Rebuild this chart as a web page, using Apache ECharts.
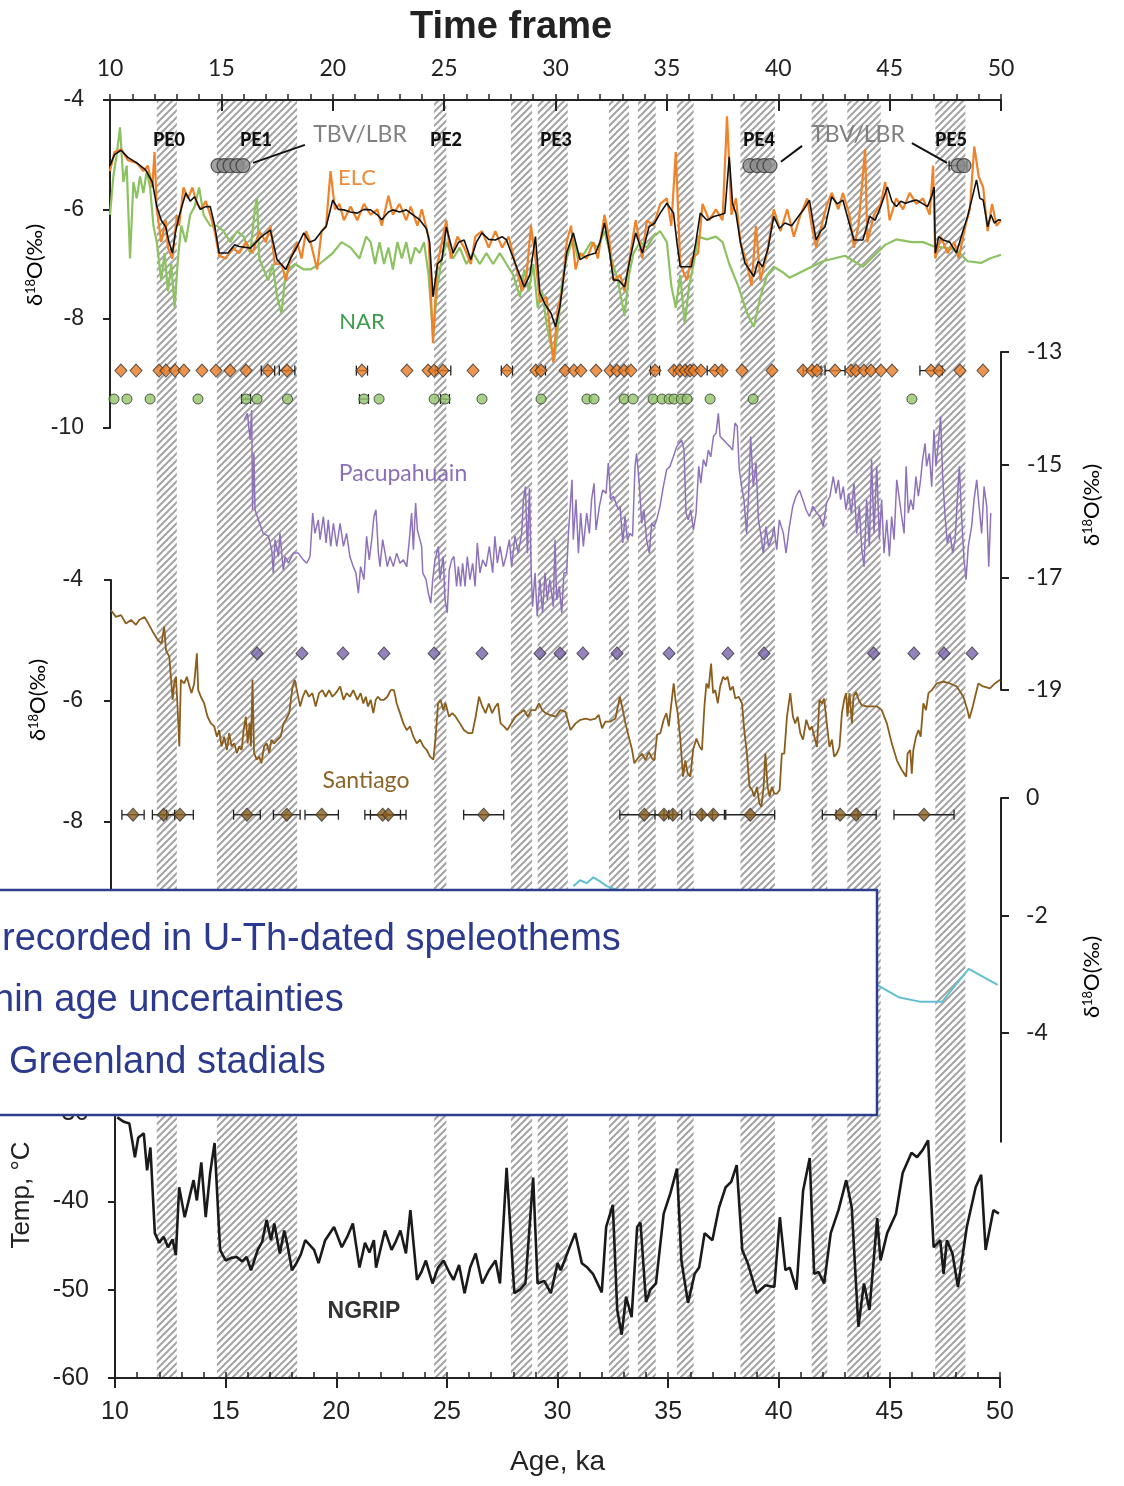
<!DOCTYPE html>
<html><head><meta charset="utf-8">
<script src="https://cdn.jsdelivr.net/npm/echarts@6/dist/echarts.min.js"></script>
<style>html,body{margin:0;padding:0;background:#fff}#c{width:1124px;height:1486px}</style>
</head><body><div id="c"></div>
<script>
// ---------------- DATA ----------------
const stadials = [[12.1,13.0],[14.8,18.4],[24.55,25.1],[28.0,28.95],[29.2,30.55],[32.4,33.3],[33.7,34.5],[35.45,36.2],[38.3,39.85],[41.5,42.2],[43.1,44.6],[47.05,48.4]];
const peLabels = ['PE0','PE1','PE2','PE3','PE4','PE5'];

const elc = [[10.0,-5.3],[10.2,-4.95],[10.5,-4.9],[10.8,-5.1],[11.2,-5.15],[11.5,-5.3],[11.7,-5.2],[11.9,-5.6],[12.0,-4.95],[12.1,-6.0],[12.3,-6.6],[12.5,-6.2],[12.6,-6.7],[12.8,-6.9],[13.0,-6.1],[13.1,-6.3],[13.3,-5.6],[13.5,-5.8],[13.7,-5.6],[13.9,-5.9],[14.1,-6.0],[14.3,-5.85],[14.5,-6.1],[14.7,-6.4],[14.9,-6.85],[15.2,-6.9],[15.5,-6.7],[15.8,-6.8],[16.1,-6.6],[16.4,-6.8],[16.7,-6.4],[17.0,-6.6],[17.2,-6.3],[17.4,-7.0],[17.7,-7.0],[17.9,-7.3],[18.1,-6.9],[18.4,-6.6],[18.6,-6.9],[18.8,-6.4],[19.0,-6.6],[19.3,-7.1],[19.5,-6.4],[19.7,-6.3],[19.9,-5.3],[20.1,-6.0],[20.3,-5.9],[20.5,-6.2],[20.8,-5.95],[21.1,-6.2],[21.4,-5.9],[21.7,-6.1],[22.0,-6.0],[22.2,-6.3],[22.5,-5.75],[22.7,-6.1],[23.0,-5.9],[23.3,-6.2],[23.5,-5.95],[23.8,-6.3],[24.0,-6.0],[24.3,-6.5],[24.5,-8.45],[24.7,-7.0],[24.9,-6.6],[25.1,-6.2],[25.3,-6.9],[25.6,-6.5],[25.9,-6.7],[26.2,-7.0],[26.4,-6.5],[26.7,-6.4],[27.0,-6.7],[27.3,-6.4],[27.6,-6.7],[27.9,-6.5],[28.2,-7.0],[28.5,-7.5],[28.7,-7.2],[28.9,-6.3],[29.1,-6.9],[29.3,-7.7],[29.6,-7.6],[29.9,-8.8],[30.1,-7.8],[30.3,-7.5],[30.5,-6.6],[30.7,-6.3],[30.9,-7.1],[31.1,-6.8],[31.4,-6.9],[31.7,-6.6],[31.9,-6.9],[32.2,-6.1],[32.4,-6.5],[32.6,-7.3],[32.9,-7.2],[33.1,-7.5],[33.4,-6.7],[33.6,-6.2],[33.9,-6.9],[34.1,-6.2],[34.4,-6.3],[34.7,-5.9],[35.0,-5.8],[35.2,-6.3],[35.4,-4.95],[35.6,-7.0],[35.9,-7.3],[36.1,-6.9],[36.4,-6.8],[36.6,-5.9],[36.9,-6.2],[37.2,-6.0],[37.5,-6.2],[37.7,-4.3],[37.9,-6.1],[38.1,-5.8],[38.3,-6.6],[38.6,-7.0],[38.8,-7.4],[39.0,-6.3],[39.2,-7.3],[39.5,-6.8],[39.8,-6.0],[40.1,-6.4],[40.4,-6.0],[40.7,-6.5],[41.0,-6.1],[41.3,-5.8],[41.5,-6.3],[41.7,-6.7],[42.0,-6.2],[42.2,-5.9],[42.4,-5.7],[42.7,-6.0],[42.9,-5.7],[43.2,-6.1],[43.4,-6.7],[43.6,-6.3],[43.9,-4.9],[44.0,-6.6],[44.3,-6.1],[44.6,-5.9],[44.8,-5.5],[45.0,-6.2],[45.3,-5.8],[45.6,-6.0],[45.9,-5.7],[46.2,-5.9],[46.5,-5.8],[46.8,-6.1],[46.95,-5.2],[47.05,-6.9],[47.3,-6.5],[47.6,-6.8],[47.9,-6.6],[48.1,-6.9],[48.4,-6.3],[48.6,-6.0],[48.8,-4.85],[49.0,-5.4],[49.2,-5.6],[49.4,-6.4],[49.6,-5.9],[49.8,-6.3],[50.0,-6.2]];

const elcSmooth = [[10.0,-5.2],[10.2,-5.0],[10.5,-4.92],[10.8,-5.05],[11.2,-5.15],[11.6,-5.28],[11.9,-5.5],[12.1,-5.95],[12.3,-6.2],[12.5,-6.32],[12.65,-6.6],[12.8,-6.8],[12.95,-6.4],[13.1,-6.13],[13.4,-5.7],[13.6,-5.85],[13.8,-5.77],[14.05,-6.0],[14.3,-5.95],[14.5,-5.95],[14.7,-6.3],[14.9,-6.8],[15.3,-6.8],[15.6,-6.65],[15.8,-6.68],[16.3,-6.71],[16.8,-6.5],[17.2,-6.38],[17.5,-6.92],[17.9,-7.1],[18.1,-6.9],[18.4,-6.68],[18.7,-6.43],[18.95,-6.6],[19.2,-6.56],[19.5,-6.4],[19.7,-6.32],[20.0,-5.83],[20.25,-6.0],[20.5,-6.01],[20.8,-6.05],[21.1,-6.07],[21.4,-6.0],[21.7,-6.01],[22.0,-6.1],[22.2,-6.19],[22.5,-6.05],[22.7,-6.01],[23.0,-6.05],[23.3,-6.01],[23.6,-6.1],[23.9,-6.19],[24.2,-6.35],[24.35,-6.6],[24.5,-7.6],[24.7,-7.0],[24.9,-6.92],[25.1,-6.32],[25.4,-6.8],[25.65,-6.6],[25.9,-6.56],[26.2,-6.92],[26.45,-6.6],[26.7,-6.43],[27.0,-6.55],[27.3,-6.56],[27.6,-6.5],[27.8,-6.56],[28.2,-7.0],[28.6,-7.42],[28.85,-7.2],[29.1,-6.5],[29.3,-7.53],[29.55,-7.75],[29.8,-7.9],[30.0,-8.15],[30.2,-7.78],[30.5,-6.8],[30.8,-6.43],[31.1,-6.92],[31.4,-6.85],[31.8,-6.8],[32.0,-6.6],[32.2,-6.25],[32.4,-6.7],[32.6,-7.29],[32.85,-7.3],[33.1,-7.42],[33.35,-6.9],[33.6,-6.43],[33.9,-6.8],[34.2,-6.32],[34.45,-6.25],[34.7,-6.07],[35.0,-5.89],[35.3,-6.07],[35.45,-6.6],[35.6,-7.05],[36.1,-7.05],[36.3,-6.6],[36.5,-6.07],[36.8,-6.2],[37.1,-6.13],[37.4,-6.1],[37.6,-6.07],[37.8,-5.04],[37.95,-5.9],[38.1,-6.07],[38.3,-6.6],[38.5,-6.98],[38.7,-7.1],[38.9,-7.23],[39.1,-6.95],[39.3,-7.05],[39.55,-6.7],[39.8,-6.13],[40.05,-6.35],[40.3,-6.25],[40.6,-6.3],[40.9,-6.13],[41.15,-6.0],[41.4,-5.83],[41.55,-6.2],[41.7,-6.56],[41.9,-6.4],[42.1,-6.32],[42.4,-5.77],[42.65,-5.9],[42.9,-5.83],[43.15,-6.2],[43.4,-6.56],[43.8,-6.56],[44.1,-6.13],[44.35,-6.2],[44.6,-5.95],[44.9,-5.59],[45.1,-5.85],[45.3,-5.95],[45.5,-5.85],[45.7,-5.89],[46.0,-5.85],[46.2,-5.83],[46.5,-5.9],[46.7,-5.95],[46.9,-5.75],[47.0,-5.59],[47.05,-6.8],[47.2,-6.5],[47.4,-6.56],[47.7,-6.6],[48.0,-6.8],[48.25,-6.45],[48.5,-6.13],[48.7,-5.8],[48.9,-5.46],[49.05,-5.8],[49.2,-5.83],[49.4,-6.32],[49.55,-6.1],[49.7,-6.25],[49.9,-6.19],[50.0,-6.2]];

const nar = [[10.0,-6.1],[10.15,-5.4],[10.3,-5.0],[10.45,-4.5],[10.6,-5.5],[10.75,-5.2],[10.9,-6.9],[11.05,-5.5],[11.2,-5.8],[11.35,-5.4],[11.5,-5.7],[11.65,-5.3],[11.8,-5.6],[11.95,-6.3],[12.1,-6.6],[12.3,-7.3],[12.45,-6.8],[12.6,-7.5],[12.75,-7.0],[12.9,-7.8],[13.05,-6.9],[13.2,-6.3],[13.4,-6.6],[13.6,-6.1],[13.8,-5.95],[14.0,-5.6],[14.2,-6.1],[14.5,-6.3],[14.8,-6.3],[15.1,-6.4],[15.4,-6.6],[15.7,-6.4],[16.0,-6.5],[16.3,-6.8],[16.5,-6.0],[16.6,-5.8],[16.7,-6.9],[16.9,-7.1],[17.1,-7.3],[17.3,-7.0],[17.5,-7.6],[17.7,-7.9],[17.85,-7.3],[18.0,-7.1],[18.3,-7.0],[18.7,-7.1],[19.0,-7.1],[19.4,-7.0],[19.7,-6.9],[20.0,-6.8],[20.4,-6.6],[20.8,-6.7],[21.2,-6.9],[21.5,-6.5],[21.7,-6.6],[21.9,-7.0],[22.1,-6.6],[22.3,-7.0],[22.5,-6.7],[22.7,-7.1],[22.9,-6.6],[23.1,-6.9],[23.3,-6.6],[23.5,-7.0],[23.7,-6.7],[23.9,-6.8],[24.1,-6.6],[24.3,-7.2],[24.5,-8.3],[24.7,-7.4],[24.9,-6.9],[25.1,-6.6],[25.4,-6.9],[25.7,-6.7],[26.0,-7.0],[26.3,-6.8],[26.6,-7.0],[26.9,-6.8],[27.2,-7.0],[27.5,-6.8],[27.8,-7.0],[28.1,-7.2],[28.4,-7.6],[28.6,-7.1],[28.8,-7.5],[29.0,-7.0],[29.2,-7.8],[29.4,-7.5],[29.6,-8.1],[29.8,-8.5],[29.95,-8.75],[30.1,-8.2],[30.3,-7.3],[30.5,-6.9],[30.8,-6.5],[31.0,-6.9],[31.3,-6.8],[31.6,-6.6],[31.9,-6.7],[32.2,-6.4],[32.5,-6.9],[32.8,-7.3],[33.1,-7.95],[33.3,-7.2],[33.5,-6.8],[33.8,-6.6],[34.1,-6.7],[34.4,-6.5],[34.7,-6.4],[35.0,-6.6],[35.2,-7.4],[35.4,-7.8],[35.6,-7.2],[35.8,-8.1],[36.0,-7.4],[36.2,-7.0],[36.4,-6.5],[36.8,-6.55],[37.2,-6.5],[37.5,-6.6],[37.8,-7.0],[38.2,-7.4],[38.6,-7.9],[38.9,-8.15],[39.2,-7.6],[39.5,-7.2],[39.8,-7.05],[40.2,-7.15],[40.5,-7.25],[41.0,-7.15],[41.5,-7.05],[42.0,-6.95],[42.5,-6.9],[43.0,-6.85],[43.4,-6.95],[43.8,-7.05],[44.3,-6.85],[44.8,-6.65],[45.3,-6.55],[46.0,-6.6],[46.5,-6.6],[47.0,-6.68],[47.5,-6.7],[48.0,-6.74],[48.5,-6.95],[49.1,-6.98],[49.5,-6.9],[50.0,-6.83]];

// U-Th dates: [age ka, half error ka]
const elcDates = [[10.49,0],[11.17,0],[12.20,0],[12.51,0],[12.92,0],[13.32,0],[14.13,0],[14.76,0],[15.39,0],[16.11,0],[17.09,0.3],[17.95,0.35],[21.31,0.25],[23.33,0],[24.28,0],[24.55,0],[24.95,0.35],[26.30,0],[27.82,0.25],[29.12,0],[29.35,0.2],[30.43,0],[30.83,0],[31.14,0],[31.82,0],[32.45,0],[32.76,0],[33.08,0],[33.39,0],[34.47,0.2],[35.32,0],[35.59,0.3],[35.82,0],[36.04,0],[36.22,0],[36.53,0],[37.16,0.35],[37.47,0],[38.37,0],[39.72,0],[41.11,0],[41.52,0.4],[41.74,0],[42.55,0.45],[43.27,0],[43.49,0],[43.85,0],[44.16,0],[44.61,0],[45.11,0],[46.86,0.5],[47.22,0],[48.16,0],[49.19,0]];
const narDates = [[10.18,0],[10.76,0],[11.80,0],[13.95,0],[16.11,0.2],[16.60,0],[17.97,0],[21.40,0.2],[22.08,0],[24.55,0],[25.04,0.2],[26.70,0],[29.35,0],[31.41,0],[31.73,0],[33.08,0],[33.48,0],[34.38,0],[34.78,0],[35.10,0],[35.32,0],[35.64,0],[35.91,0],[36.94,0],[38.87,0],[46.00,0]];
const tbvDates = [[14.85,0],[15.12,0],[15.39,0],[15.70,0],[15.97,0],[38.73,0],[39.05,0],[39.36,0],[39.63,0],[48.07,0.4],[48.34,0]];
const pacuDates = [16.60,18.62,20.46,22.30,24.55,26.70,29.30,30.20,31.23,32.76,35.10,37.74,39.36,44.28,46.09,47.44,48.70];
const santDates = [[10.99,0.5],[12.36,0.5],[13.10,0.6],[16.11,0.6],[17.90,0.6],[19.47,0.75],[22.21,0.8],[22.46,0.8],[26.75,0.9],[33.97,1.1],[34.85,0.4],[35.25,0.4],[36.53,0.5],[37.07,0.5],[38.73,1.1],[42.77,0.8],[43.49,0.9],[46.54,1.35]];

const pacupahuain = [[16.02,-14.21],[16.17,-14.09],[16.29,-14.56],[16.36,-14.03],[16.40,-15.80],[16.46,-14.80],[16.51,-15.80],[16.66,-15.98],[16.88,-16.22],[17.11,-16.27],[17.26,-16.51],[17.33,-16.92],[17.41,-16.33],[17.56,-16.63],[17.63,-16.22],[17.78,-16.87],[17.86,-16.63],[18.01,-16.75],[18.23,-16.57],[18.45,-16.57],[18.68,-16.69],[18.83,-16.75],[18.98,-16.63],[19.10,-15.86],[19.20,-16.22],[19.35,-15.98],[19.43,-16.33],[19.58,-15.92],[19.70,-16.39],[19.80,-15.98],[19.91,-16.45],[20.03,-16.04],[20.18,-16.45],[20.33,-16.04],[20.48,-16.45],[20.62,-16.22],[20.77,-16.63],[20.92,-16.81],[21.04,-16.92],[21.15,-17.28],[21.25,-16.81],[21.40,-17.04],[21.52,-16.27],[21.64,-16.69],[21.75,-16.33],[21.85,-15.92],[21.94,-15.80],[22.05,-16.57],[22.12,-16.81],[22.24,-16.33],[22.35,-16.57],[22.45,-16.81],[22.57,-16.63],[22.72,-16.81],[22.87,-16.57],[23.02,-16.75],[23.17,-16.69],[23.32,-16.81],[23.44,-16.33],[23.54,-15.86],[23.62,-16.51],[23.72,-15.68],[23.80,-16.16],[23.99,-16.45],[24.04,-16.92],[24.19,-17.04],[24.29,-17.28],[24.40,-17.46],[24.49,-17.04],[24.59,-16.69],[24.74,-16.45],[24.81,-17.04],[24.96,-16.63],[25.04,-17.40],[25.14,-17.63],[25.23,-16.87],[25.34,-16.69],[25.44,-16.63],[25.56,-17.16],[25.64,-16.81],[25.74,-17.16],[25.83,-16.75],[25.94,-17.16],[26.04,-16.63],[26.16,-17.04],[26.28,-16.75],[26.39,-17.16],[26.49,-16.39],[26.61,-16.92],[26.73,-16.69],[26.88,-16.81],[27.03,-16.45],[27.18,-16.92],[27.28,-16.27],[27.39,-16.75],[27.51,-16.45],[27.66,-16.81],[27.78,-16.63],[27.93,-16.33],[28.03,-16.81],[28.18,-16.27],[28.33,-16.57],[28.48,-16.22],[28.56,-15.62],[28.65,-15.39],[28.74,-16.57],[28.83,-15.42],[28.91,-16.92],[28.97,-17.52],[29.08,-16.92],[29.18,-17.69],[29.30,-17.04],[29.42,-17.63],[29.53,-16.92],[29.63,-17.40],[29.75,-17.04],[29.90,-17.52],[29.98,-16.33],[30.05,-17.40],[30.17,-17.16],[30.28,-17.63],[30.38,-16.92],[30.50,-16.92],[30.58,-16.22],[30.65,-15.80],[30.74,-15.27],[30.80,-16.33],[30.92,-15.62],[31.03,-16.57],[31.13,-15.86],[31.25,-16.45],[31.40,-15.86],[31.52,-16.22],[31.62,-15.62],[31.73,-15.33],[31.82,-16.16],[31.97,-15.74],[32.12,-15.45],[32.27,-15.51],[32.37,-14.97],[32.48,-15.62],[32.60,-15.56],[32.82,-15.80],[32.90,-15.74],[33.02,-16.39],[33.12,-15.92],[33.23,-16.33],[33.35,-16.22],[33.46,-16.27],[33.57,-15.03],[33.64,-14.80],[33.76,-15.33],[33.87,-16.04],[33.97,-15.80],[34.09,-16.33],[34.21,-16.57],[34.32,-16.04],[34.42,-16.10],[34.54,-15.98],[34.69,-15.74],[34.84,-15.39],[34.99,-15.09],[35.14,-15.03],[35.29,-14.86],[35.44,-14.68],[35.56,-14.62],[35.66,-14.56],[35.77,-14.74],[35.86,-15.86],[35.96,-15.98],[36.07,-15.80],[36.19,-16.16],[36.31,-15.86],[36.43,-15.03],[36.52,-15.33],[36.64,-14.91],[36.76,-15.03],[36.86,-14.74],[36.97,-14.86],[37.09,-14.50],[37.21,-14.44],[37.31,-14.09],[37.39,-14.50],[37.54,-14.56],[37.68,-14.62],[37.83,-14.68],[37.95,-14.74],[38.06,-14.26],[38.16,-14.32],[38.25,-15.09],[38.36,-15.39],[38.46,-15.62],[38.58,-16.22],[38.67,-15.51],[38.76,-14.50],[38.88,-15.39],[39.00,-14.97],[39.11,-15.98],[39.21,-16.22],[39.33,-16.57],[39.45,-16.10],[39.56,-16.45],[39.70,-16.33],[39.81,-16.10],[39.93,-16.51],[40.05,-15.98],[40.23,-16.22],[40.35,-16.57],[40.50,-16.10],[40.65,-15.74],[40.80,-15.56],[40.95,-15.45],[41.10,-15.62],[41.25,-15.80],[41.40,-15.92],[41.55,-15.74],[41.73,-15.86],[41.87,-15.92],[42.02,-16.10],[42.17,-15.68],[42.32,-15.56],[42.47,-15.21],[42.59,-15.51],[42.70,-15.27],[42.80,-15.62],[42.92,-15.39],[43.04,-15.80],[43.16,-15.51],[43.28,-15.86],[43.40,-15.33],[43.52,-16.22],[43.64,-15.74],[43.75,-16.51],[43.85,-16.81],[43.97,-15.62],[44.09,-16.45],[44.19,-14.91],[44.30,-16.22],[44.42,-15.03],[44.54,-16.33],[44.64,-15.62],[44.75,-16.57],[44.87,-15.98],[44.99,-16.63],[45.09,-15.92],[45.20,-16.33],[45.32,-15.27],[45.44,-15.62],[45.54,-15.92],[45.65,-16.22],[45.74,-15.03],[45.84,-15.86],[45.95,-15.62],[46.06,-15.80],[46.18,-15.21],[46.29,-15.56],[46.39,-15.27],[46.48,-14.91],[46.59,-14.62],[46.66,-15.03],[46.78,-14.80],[46.89,-15.39],[46.99,-14.38],[47.08,-15.03],[47.19,-14.62],[47.29,-14.15],[47.38,-15.21],[47.49,-15.92],[47.59,-16.39],[47.71,-16.22],[47.83,-16.57],[47.94,-16.33],[48.04,-15.62],[48.13,-15.03],[48.23,-15.92],[48.34,-16.69],[48.43,-17.04],[48.53,-16.45],[48.68,-16.10],[48.79,-15.62],[48.91,-15.27],[49.03,-15.80],[49.13,-16.22],[49.24,-15.39],[49.36,-15.74],[49.45,-16.81],[49.54,-15.86]];

const santiago = [[10.00,-4.50],[10.22,-4.61],[10.45,-4.58],[10.67,-4.72],[10.90,-4.66],[11.12,-4.74],[11.27,-4.66],[11.50,-4.61],[11.68,-4.72],[11.87,-4.85],[12.10,-4.99],[12.27,-5.05],[12.39,-4.77],[12.47,-5.16],[12.62,-5.27],[12.69,-5.60],[12.77,-5.98],[12.84,-5.71],[12.92,-5.60],[12.99,-6.09],[13.07,-6.75],[13.14,-5.65],[13.29,-5.71],[13.41,-5.60],[13.53,-5.76],[13.62,-5.87],[13.74,-5.71],[13.86,-5.21],[13.92,-5.82],[14.04,-5.93],[14.19,-6.04],[14.34,-6.26],[14.49,-6.37],[14.64,-6.42],[14.76,-6.59],[14.86,-6.48],[14.97,-6.75],[15.09,-6.59],[15.21,-6.81],[15.31,-6.53],[15.42,-6.75],[15.54,-6.70],[15.66,-6.86],[15.76,-6.75],[15.87,-6.81],[15.96,-6.48],[16.06,-6.26],[16.14,-6.70],[16.23,-6.37],[16.29,-6.75],[16.36,-5.65],[16.43,-6.86],[16.55,-6.97],[16.66,-6.92],[16.76,-7.03],[16.88,-6.75],[17.00,-6.70],[17.11,-6.86],[17.21,-6.64],[17.33,-6.70],[17.48,-6.64],[17.63,-6.59],[17.75,-6.37],[17.86,-6.31],[18.01,-6.20],[18.16,-5.76],[18.26,-5.65],[18.38,-5.87],[18.50,-6.09],[18.62,-5.93],[18.75,-5.82],[18.90,-5.93],[19.05,-5.87],[19.20,-6.09],[19.35,-5.87],[19.50,-5.82],[19.65,-5.93],[19.80,-5.82],[19.95,-5.93],[20.10,-5.87],[20.30,-5.76],[20.45,-5.98],[20.59,-5.87],[20.74,-5.93],[20.89,-5.82],[21.07,-5.98],[21.22,-5.87],[21.34,-6.04],[21.45,-5.93],[21.55,-6.09],[21.67,-5.98],[21.79,-6.20],[21.90,-5.98],[22.00,-5.93],[22.12,-5.98],[22.27,-5.98],[22.42,-5.93],[22.57,-5.82],[22.72,-5.82],[22.84,-6.04],[22.99,-6.20],[23.14,-6.37],[23.29,-6.48],[23.44,-6.42],[23.59,-6.59],[23.74,-6.70],[23.89,-6.64],[24.04,-6.75],[24.19,-6.81],[24.34,-6.92],[24.49,-6.97],[24.59,-6.59],[24.70,-6.04],[24.81,-5.98],[24.93,-6.15],[25.04,-6.04],[25.19,-6.26],[25.34,-6.20],[25.49,-6.26],[25.68,-6.37],[25.86,-6.48],[26.04,-6.53],[26.24,-6.53],[26.39,-6.26],[26.54,-5.93],[26.69,-6.09],[26.83,-6.20],[26.98,-6.04],[27.13,-6.20],[27.28,-6.09],[27.39,-6.04],[27.51,-6.37],[27.66,-6.42],[27.81,-6.48],[27.99,-6.37],[28.18,-6.26],[28.38,-6.20],[28.56,-6.15],[28.74,-6.26],[28.89,-6.15],[29.08,-6.15],[29.23,-6.04],[29.38,-6.15],[29.53,-6.20],[29.72,-6.23],[29.98,-6.26],[30.20,-6.15],[30.43,-6.18],[30.65,-6.48],[30.88,-6.37],[31.10,-6.31],[31.33,-6.29],[31.55,-6.31],[31.77,-6.29],[31.92,-6.23],[32.07,-6.45],[32.22,-6.34],[32.45,-6.34],[32.67,-6.29],[32.87,-5.93],[32.97,-6.09],[33.12,-6.37],[33.27,-6.59],[33.42,-6.81],[33.52,-7.03],[33.67,-6.95],[33.87,-6.87],[34.02,-6.98],[34.17,-6.84],[34.32,-6.95],[34.42,-6.98],[34.54,-6.56],[34.69,-6.53],[34.84,-6.31],[34.96,-6.20],[35.07,-6.42],[35.17,-6.09],[35.29,-5.71],[35.37,-5.98],[35.47,-6.20],[35.59,-6.64],[35.71,-7.25],[35.81,-6.98],[35.92,-7.20],[36.04,-7.25],[36.16,-6.81],[36.31,-6.62],[36.46,-6.76],[36.56,-6.81],[36.67,-6.09],[36.76,-5.71],[36.86,-5.79],[36.97,-5.38],[37.06,-5.87],[37.16,-5.82],[37.27,-6.04],[37.38,-5.76],[37.51,-5.60],[37.61,-5.65],[37.71,-5.60],[37.83,-5.82],[37.95,-5.76],[38.06,-5.96],[38.21,-5.93],[38.36,-6.04],[38.46,-6.48],[38.58,-6.87],[38.70,-7.42],[38.81,-7.47],[38.91,-7.58],[39.03,-7.42],[39.14,-7.69],[39.23,-7.75],[39.33,-7.42],[39.41,-6.87],[39.51,-7.42],[39.60,-7.58],[39.70,-7.42],[39.81,-7.53],[39.93,-7.53],[40.05,-7.47],[40.15,-6.87],[40.26,-6.87],[40.38,-6.26],[40.53,-5.87],[40.65,-6.26],[40.75,-6.37],[40.86,-6.26],[40.98,-6.53],[41.10,-6.64],[41.25,-6.31],[41.40,-6.48],[41.50,-6.42],[41.61,-6.59],[41.73,-6.76],[41.84,-5.98],[41.95,-6.04],[42.05,-5.96],[42.17,-6.37],[42.29,-6.76],[42.40,-6.64],[42.50,-6.92],[42.62,-6.87],[42.74,-6.76],[42.85,-6.20],[42.95,-5.98],[43.04,-5.87],[43.10,-6.26],[43.19,-5.87],[43.30,-6.37],[43.37,-5.93],[43.49,-5.85],[43.60,-5.98],[43.74,-6.07],[43.94,-6.09],[44.19,-6.09],[44.42,-6.09],[44.64,-6.15],[44.87,-6.37],[45.09,-6.70],[45.32,-6.98],[45.54,-7.14],[45.74,-7.25],[45.80,-6.87],[45.92,-6.81],[45.99,-7.20],[46.06,-6.81],[46.18,-6.59],[46.29,-6.48],[46.39,-6.59],[46.51,-6.04],[46.63,-6.15],[46.74,-5.87],[46.89,-5.82],[47.11,-5.71],[47.41,-5.68],[47.71,-5.71],[48.01,-5.76],[48.31,-5.93],[48.49,-6.15],[48.58,-6.29],[48.73,-6.09],[48.98,-5.71],[49.20,-5.76],[49.50,-5.79],[49.73,-5.71],[49.96,-5.65]];

const cyanRecord = [[30.8,-1.5],[31.1,-1.4],[31.4,-1.45],[31.7,-1.35],[32.0,-1.42],[32.3,-1.5],[44.3,-3.15],[45.4,-3.39],[46.4,-3.47],[47.35,-3.47],[48.55,-2.91],[49.85,-3.18]];

const ngrip = [[10.1,-30.5],[10.4,-31.0],[10.65,-31.2],[10.9,-35.0],[11.05,-32.8],[11.3,-32.3],[11.45,-36.5],[11.6,-33.9],[11.8,-43.6],[12.0,-44.7],[12.2,-44.0],[12.4,-45.2],[12.6,-44.3],[12.75,-46.1],[12.9,-38.4],[13.15,-41.8],[13.55,-37.6],[13.7,-39.9],[13.9,-35.6],[14.1,-41.8],[14.3,-36.8],[14.5,-33.4],[14.75,-45.5],[15.0,-46.7],[15.25,-46.4],[15.5,-46.3],[15.75,-46.8],[15.95,-46.3],[16.15,-47.8],[16.45,-45.5],[16.65,-44.6],[16.85,-42.1],[17.05,-44.4],[17.2,-42.5],[17.45,-45.9],[17.65,-43.3],[17.8,-45.0],[18.0,-47.8],[18.2,-47.0],[18.4,-46.0],[18.6,-44.4],[19.0,-45.5],[19.2,-47.0],[19.5,-44.4],[19.9,-42.9],[20.25,-45.2],[20.5,-44.0],[20.75,-42.5],[21.05,-47.5],[21.3,-44.7],[21.5,-45.8],[21.7,-44.4],[21.8,-47.5],[22.2,-43.3],[22.5,-45.5],[22.7,-44.5],[22.9,-43.3],[23.15,-45.9],[23.35,-41.0],[23.65,-48.9],[23.85,-48.0],[24.05,-46.7],[24.35,-49.3],[24.6,-47.5],[24.85,-46.7],[25.1,-48.0],[25.3,-48.9],[25.55,-47.2],[25.8,-50.4],[26.05,-47.5],[26.3,-45.9],[26.6,-49.3],[26.9,-47.8],[27.2,-46.7],[27.4,-49.3],[27.7,-36.2],[28.05,-50.4],[28.3,-50.0],[28.55,-49.3],[28.9,-37.3],[29.1,-49.3],[29.4,-49.0],[29.7,-50.4],[30.0,-47.0],[30.15,-47.8],[30.5,-45.5],[30.8,-43.6],[31.1,-47.0],[31.35,-47.5],[31.6,-48.2],[32.0,-50.3],[32.2,-42.9],[32.5,-40.4],[32.7,-52.3],[32.9,-55.1],[33.1,-50.8],[33.35,-53.1],[33.6,-42.9],[33.75,-42.4],[34.0,-51.4],[34.2,-50.0],[34.45,-49.3],[34.8,-41.4],[35.1,-39.1],[35.4,-36.3],[35.6,-46.7],[35.9,-51.5],[36.2,-48.2],[36.4,-47.5],[36.65,-43.6],[37.0,-44.4],[37.3,-40.7],[37.6,-38.4],[37.85,-37.8],[38.1,-35.9],[38.35,-45.5],[38.6,-47.0],[39.0,-50.4],[39.4,-49.5],[39.8,-49.7],[40.05,-41.8],[40.3,-47.8],[40.5,-47.5],[40.8,-50.0],[41.1,-38.8],[41.4,-35.1],[41.6,-48.2],[41.8,-48.0],[42.05,-49.3],[42.35,-43.6],[42.7,-41.0],[43.05,-37.6],[43.3,-40.7],[43.6,-54.2],[43.85,-49.3],[44.1,-52.3],[44.45,-41.9],[44.6,-46.7],[44.9,-43.6],[45.3,-41.4],[45.6,-36.8],[46.0,-34.5],[46.25,-35.0],[46.5,-34.2],[46.75,-33.1],[47.0,-45.2],[47.3,-44.4],[47.45,-48.2],[47.6,-44.4],[47.85,-45.9],[48.1,-49.7],[48.5,-42.9],[48.9,-38.4],[49.15,-37.0],[49.35,-45.5],[49.7,-41.0],[49.95,-41.4]];

const topTicks = [10,15,20,25,30,35,40,45,50];

// ---------------- STYLE / LAYOUT ----------------
const ROW_ELC = -8.95, ROW_NAR = -9.47, ROW_TBV = -5.2, ROW_PACU = -18.35, ROW_SANT = -7.88;
const LEFT = 110, W = 891;
const CAL = 'Lato', ARIAL = 'Liberation Sans';

function hatchCanvas(){
  const s = 7, c = document.createElement('canvas');
  c.width = s; c.height = s;
  const g = c.getContext('2d');
  g.strokeStyle = '#a3a3a3'; g.lineWidth = 2;
  g.beginPath();
  g.moveTo(0, s); g.lineTo(s, 0);
  g.moveTo(-2, 2); g.lineTo(2, -2);
  g.moveTo(s - 2, s + 2); g.lineTo(s + 2, s - 2);
  g.stroke();
  return c;
}
const hatch = {image: hatchCanvas(), repeat: 'repeat'};

function errRender(params, api){
  const x = api.value(0), y = api.value(1), h = api.value(2);
  if (!h) return null;
  const p0 = api.coord([x - h, y]), p1 = api.coord([x + h, y]);
  const st = {stroke: '#222', lineWidth: 1.3};
  return {type: 'group', children: [
    {type: 'line', shape: {x1: p0[0], y1: p0[1], x2: p1[0], y2: p1[1]}, style: st},
    {type: 'line', shape: {x1: p0[0], y1: p0[1] - 5, x2: p0[0], y2: p0[1] + 5}, style: st},
    {type: 'line', shape: {x1: p1[0], y1: p1[1] - 5, x2: p1[0], y2: p1[1] + 5}, style: st}
  ]};
}
function dates(arr, row){ return arr.map(d => [d[0], row, d[1]]); }

const hidX = (gi) => ({gridIndex: gi, type: 'value', min: 10, max: 50, show: false, axisLine: {onZero: false}});
const baseGrid = {containLabel: false, outerBoundsMode: 'none'};

const deltaName = '{a|δ}{s|18}{a|O(‰)}';
const deltaRich = {a: {fontFamily: CAL, fontSize: 22, color: '#222'}, s: {fontFamily: CAL, fontSize: 13, color: '#222', padding: [0, 0, 9, 0]}};

const option = {
  animation: false,
  backgroundColor: '#fff',
  title: {text: 'Time frame', left: 405, top: 4, textStyle: {fontFamily: ARIAL, fontSize: 38, fontWeight: 'bold', color: '#222'}},
  grid: [
    Object.assign({left: LEFT, width: W, top: 100, height: 328}, baseGrid),
    Object.assign({left: LEFT, width: W, top: 352, height: 338}, baseGrid),
    Object.assign({left: LEFT + 1, width: W - 1, top: 580, height: 363}, baseGrid),
    Object.assign({left: LEFT, width: W, top: 798, height: 343.7}, baseGrid),
    Object.assign({left: 115, width: 885, top: 1113, height: 265}, baseGrid),
    Object.assign({left: LEFT, width: W, top: 100, height: 1278}, baseGrid),
    Object.assign({left: LEFT, width: W, top: 100, height: 328}, baseGrid),
    Object.assign({left: 115, width: 885, top: 1113, height: 265}, baseGrid)
  ],
  xAxis: [
    {gridIndex: 0, type: 'value', position: 'top', min: 10, max: 50, interval: 1,
      axisLine: {onZero: false, lineStyle: {color: '#222', width: 2}},
      axisTick: {show: true, inside: false, length: 6, lineStyle: {color: '#222', width: 1.5}},
      axisLabel: {show: false}, splitLine: {show: false}},
    hidX(1), hidX(2), hidX(3),
    {gridIndex: 4, type: 'value', position: 'bottom', min: 10, max: 50, interval: 1,
      axisLine: {onZero: false, lineStyle: {color: '#222', width: 2}},
      axisTick: {show: true, inside: true, length: 6, lineStyle: {color: '#222', width: 1.5}},
      axisLabel: {show: false}, splitLine: {show: false}},
    hidX(5),
    {gridIndex: 6, type: 'value', position: 'top', min: 10, max: 50, interval: 5,
      axisLine: {show: false, onZero: false},
      axisTick: {show: true, inside: true, length: 11, lineStyle: {color: '#222', width: 2}},
      axisLabel: {show: true, fontFamily: CAL, fontSize: 23, color: '#222', margin: 20,
        formatter: v => topTicks.includes(v) ? String(v) : ''},
      splitLine: {show: false}},
    {gridIndex: 7, type: 'value', position: 'bottom', min: 10, max: 50, interval: 5,
      axisLine: {show: false, onZero: false},
      axisTick: {show: true, inside: false, length: 10, lineStyle: {color: '#222', width: 2}},
      axisLabel: {show: true, fontFamily: ARIAL, fontSize: 25, color: '#222', margin: 22},
      name: 'Age, ka', nameLocation: 'middle', nameGap: 70,
      nameTextStyle: {fontFamily: ARIAL, fontSize: 28, color: '#222'},
      splitLine: {show: false}}
  ],
  yAxis: [
    {gridIndex: 0, type: 'value', position: 'left', min: -10, max: -4, interval: 2,
      axisLine: {show: true, onZero: false, lineStyle: {color: '#222', width: 2}},
      axisTick: {show: true, length: 7, lineStyle: {color: '#222', width: 2}},
      axisLabel: {fontFamily: ARIAL, fontSize: 23, color: '#222', margin: 26}, splitLine: {show: false}},
    {gridIndex: 1, type: 'value', position: 'right', min: -19, max: -13, interval: 2,
      axisLine: {show: true, onZero: false, lineStyle: {color: '#222', width: 2}},
      axisTick: {show: true, length: 8, lineStyle: {color: '#222', width: 2}},
      axisLabel: {fontFamily: CAL, fontSize: 23, color: '#222', margin: 26}, splitLine: {show: false}},
    {gridIndex: 2, type: 'value', position: 'left', min: -10, max: -4, interval: 2,
      axisLine: {show: true, onZero: false, lineStyle: {color: '#222', width: 2}},
      axisTick: {show: true, length: 7, lineStyle: {color: '#222', width: 2}},
      axisLabel: {fontFamily: ARIAL, fontSize: 23, color: '#222', margin: 28}, splitLine: {show: false}},
    {gridIndex: 3, type: 'value', position: 'right', min: -5.85, max: 0,
      axisLine: {show: true, onZero: false, lineStyle: {color: '#222', width: 2}},
      axisTick: {show: true, length: 8, customValues: [0, -2, -4], lineStyle: {color: '#222', width: 2}},
      axisLabel: {fontFamily: CAL, fontSize: 23, color: '#222', margin: 25, customValues: [0, -2, -4]}, splitLine: {show: false}},
    {gridIndex: 4, type: 'value', position: 'left', min: -60, max: -30, interval: 10,
      axisLine: {show: true, onZero: false, lineStyle: {color: '#222', width: 2}},
      axisTick: {show: true, length: 7, lineStyle: {color: '#222', width: 2}},
      axisLabel: {fontFamily: ARIAL, fontSize: 25, color: '#222', margin: 26}, splitLine: {show: false}},
    {gridIndex: 5, type: 'value', min: 0, max: 1, show: false, axisLine: {onZero: false}},
    {gridIndex: 6, type: 'value', min: 0, max: 1, show: false, axisLine: {onZero: false}},
    {gridIndex: 7, type: 'value', min: 0, max: 1, show: false, axisLine: {onZero: false}}
  ],
  series: [
    {type: 'custom', name: 'stadials', xAxisIndex: 5, yAxisIndex: 5, z: 0, silent: true,
      data: stadials, encode: {x: [0, 1]},
      renderItem: (p, api) => {
        const a = api.coord([api.value(0), 1]), b = api.coord([api.value(1), 0]);
        return {type: 'rect', shape: {x: a[0], y: a[1], width: b[0] - a[0], height: b[1] - a[1]}, style: {fill: hatch}};
      }},
    {type: 'line', name: 'NAR', xAxisIndex: 0, yAxisIndex: 0, data: nar, showSymbol: false, z: 3,
      lineStyle: {color: '#8dc262', width: 2.2}},
    {type: 'line', name: 'ELC', xAxisIndex: 0, yAxisIndex: 0, data: elc, showSymbol: false, z: 4,
      lineStyle: {color: '#ee832a', width: 2.2}},
    {type: 'line', name: 'ELC smooth', xAxisIndex: 0, yAxisIndex: 0, data: elcSmooth, showSymbol: false, z: 5,
      lineStyle: {color: '#111', width: 1.6}},
    {type: 'custom', name: 'err1', xAxisIndex: 0, yAxisIndex: 0, z: 6, renderItem: errRender,
      data: dates(elcDates, ROW_ELC).concat(dates(narDates, ROW_NAR)).concat(dates(tbvDates, ROW_TBV)), encode: {x: 0, y: 1}},
    {type: 'scatter', name: 'ELC dates', xAxisIndex: 0, yAxisIndex: 0, z: 7, symbol: 'diamond', symbolSize: [12, 13],
      data: dates(elcDates, ROW_ELC).map(d => [d[0], d[1]]),
      itemStyle: {color: '#e87b22', borderColor: '#333', borderWidth: 1}},
    {type: 'scatter', name: 'NAR dates', xAxisIndex: 0, yAxisIndex: 0, z: 7, symbol: 'circle', symbolSize: 10,
      data: dates(narDates, ROW_NAR).map(d => [d[0], d[1]]),
      itemStyle: {color: '#92c56a', borderColor: '#333', borderWidth: 1}},
    {type: 'scatter', name: 'TBV/LBR', xAxisIndex: 0, yAxisIndex: 0, z: 7, symbol: 'circle', symbolSize: 14,
      data: dates(tbvDates, ROW_TBV).map(d => [d[0], d[1]]),
      itemStyle: {color: '#8c8c8c', borderColor: '#333', borderWidth: 1.2},
      markLine: {silent: true, symbol: 'none', lineStyle: {color: '#111', width: 2, type: 'solid'}, label: {show: false},
        data: [
          [{coord: [16.42, -5.15]}, {coord: [18.75, -4.82]}],
          [{coord: [40.12, -5.13]}, {coord: [41.07, -4.84]}],
          [{coord: [46.0, -4.79]}, {coord: [47.58, -5.15]}]
        ]}},
    {type: 'line', name: 'Pacupahuain', xAxisIndex: 1, yAxisIndex: 1, data: pacupahuain, showSymbol: false, z: 3,
      lineStyle: {color: '#8e73bb', width: 1.5}},
    {type: 'scatter', name: 'Pacupahuain dates', xAxisIndex: 1, yAxisIndex: 1, z: 7, symbol: 'diamond', symbolSize: [12, 13],
      data: pacuDates.map(a => [a, ROW_PACU]),
      itemStyle: {color: '#7b64ad', borderColor: '#333', borderWidth: 1}},
    {type: 'line', name: 'Santiago', xAxisIndex: 2, yAxisIndex: 2, data: santiago, showSymbol: false, z: 3,
      lineStyle: {color: '#8b5e1e', width: 1.8}},
    {type: 'custom', name: 'err2', xAxisIndex: 2, yAxisIndex: 2, z: 6, renderItem: errRender,
      data: dates(santDates, ROW_SANT), encode: {x: 0, y: 1}},
    {type: 'scatter', name: 'Santiago dates', xAxisIndex: 2, yAxisIndex: 2, z: 7, symbol: 'diamond', symbolSize: [12, 13],
      data: dates(santDates, ROW_SANT).map(d => [d[0], d[1]]),
      itemStyle: {color: '#8b5e1e', borderColor: '#333', borderWidth: 1}},
    {type: 'line', name: 'cyan', xAxisIndex: 3, yAxisIndex: 3, data: cyanRecord, showSymbol: false, z: 3,
      lineStyle: {color: '#62bfd0', width: 2}},
    {type: 'line', name: 'NGRIP', xAxisIndex: 4, yAxisIndex: 4, data: ngrip, showSymbol: false, z: 3,
      lineStyle: {color: '#1a1a1a', width: 2.6}}
  ],
  graphic: [
    ...peLabels.map((t, i) => ({type: 'text', z: 50, x: [169,256,446,556,759,951][i], y: 140,
      style: {text: t, fontFamily: CAL, fontWeight: 900, fontSize: 18, fill: '#111', align: 'center', verticalAlign: 'middle'}})),
    {type: 'text', z: 50, x: 360, y: 135, style: {text: 'TBV/LBR', fontFamily: CAL, fontSize: 23, fill: '#808080', align: 'center', verticalAlign: 'middle'}},
    {type: 'text', z: 50, x: 858, y: 135, style: {text: 'TBV/LBR', fontFamily: CAL, fontSize: 23, fill: '#808080', align: 'center', verticalAlign: 'middle'}},
    {type: 'text', z: 50, x: 357, y: 178, style: {text: 'ELC', fontFamily: CAL, fontSize: 22, fill: '#ee8a3c', align: 'center', verticalAlign: 'middle'}},
    {type: 'text', z: 50, x: 362, y: 322, style: {text: 'NAR', fontFamily: CAL, fontSize: 22, fill: '#3d9b4b', align: 'center', verticalAlign: 'middle'}},
    {type: 'text', z: 50, x: 403, y: 474, style: {text: 'Pacupahuain', fontFamily: CAL, fontSize: 23, fill: '#8c6fba', align: 'center', verticalAlign: 'middle'}},
    {type: 'text', z: 50, x: 366, y: 781, style: {text: 'Santiago', fontFamily: CAL, fontSize: 23, fill: '#8b6428', align: 'center', verticalAlign: 'middle'}},
    {type: 'text', z: 50, x: 364, y: 1312, style: {text: 'NGRIP', fontFamily: ARIAL, fontWeight: 'bold', fontSize: 23, fill: '#333', align: 'center', verticalAlign: 'middle'}},
    {type: 'text', z: 50, x: 35, y: 265, rotation: Math.PI / 2, style: {text: deltaName, rich: deltaRich, align: 'center', verticalAlign: 'middle'}},
    {type: 'text', z: 50, x: 38, y: 700, rotation: Math.PI / 2, style: {text: deltaName, rich: deltaRich, align: 'center', verticalAlign: 'middle'}},
    {type: 'text', z: 50, x: 1092, y: 505, rotation: Math.PI / 2, style: {text: deltaName, rich: deltaRich, align: 'center', verticalAlign: 'middle'}},
    {type: 'text', z: 50, x: 1092, y: 977, rotation: Math.PI / 2, style: {text: deltaName, rich: deltaRich, align: 'center', verticalAlign: 'middle'}},
    {type: 'text', z: 50, x: 22, y: 1195, rotation: Math.PI / 2, style: {text: 'Temp, °C', fontFamily: ARIAL, fontSize: 26, fill: '#222', align: 'center', verticalAlign: 'middle'}},
    {type: 'rect', z: 100, shape: {x: -10, y: 890, width: 887, height: 225}, style: {fill: '#fff', stroke: '#2d3e8e', lineWidth: 2.5}},
    {type: 'text', z: 101, x: 2, y: 940, style: {text: 'recorded in U-Th-dated speleothems', fontFamily: ARIAL, fontSize: 38, fill: '#2b3a8f', align: 'left', verticalAlign: 'middle'}},
    {type: 'text', z: 101, x: -7, y: 1001, style: {text: 'hin age uncertainties', fontFamily: ARIAL, fontSize: 38, fill: '#2b3a8f', align: 'left', verticalAlign: 'middle'}},
    {type: 'text', z: 101, x: 9, y: 1063, style: {text: 'Greenland stadials', fontFamily: ARIAL, fontSize: 38, fill: '#2b3a8f', align: 'left', verticalAlign: 'middle'}}
  ]
};
const chart = echarts.init(document.getElementById('c'), null, {renderer: 'canvas'});
chart.setOption(option);
</script>
</body></html>
